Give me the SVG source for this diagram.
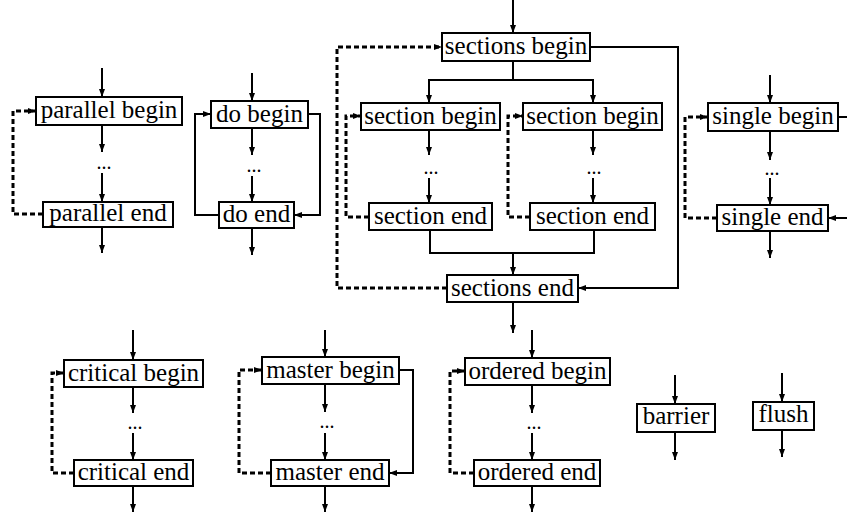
<svg xmlns="http://www.w3.org/2000/svg" width="847" height="521" viewBox="0 0 847 521">
<style>
.box{fill:#fff;stroke:#000;stroke-width:2}
.t{font-family:"Liberation Serif","Times New Roman",serif;font-size:25px;text-anchor:middle;fill:#000}
.d{font-family:"Liberation Serif","Times New Roman",serif;font-size:20px;text-anchor:middle;fill:#000}
.ln{fill:none;stroke:#000;stroke-width:2}
.ar{marker-end:url(#ah)}
.dl{fill:none;stroke:#000;stroke-width:3;stroke-dasharray:5 3}
</style>
<defs>
<marker id="ah" viewBox="0 0 8 6" refX="8" refY="3" markerWidth="8" markerHeight="6" markerUnits="userSpaceOnUse" orient="auto">
<path d="M0,0 L8,3 L0,6 z" fill="#000"/>
</marker>
</defs>
<g id="connectors">
<path class="ln ar" d="M102,68 V97"/>
<path class="ln ar" d="M102,125 V152"/>
<path class="ln ar" d="M102,173 V202"/>
<path class="ln ar" d="M102,227 V253"/>
<path class="dl ar" d="M43,214 H13 V111 H36"/>
<path class="ln ar" d="M252,73 V101"/>
<path class="ln ar" d="M252,128 V155"/>
<path class="ln ar" d="M252,176 V202"/>
<path class="ln ar" d="M252,228 V255"/>
<path class="ln ar" d="M219,215 H195 V114 H211"/>
<path class="ln ar" d="M308,114 H320 V215 H294"/>
<path class="ln ar" d="M513,0 V33"/>
<path class="ln" d="M513,61 V80"/>
<path class="ln ar" d="M513,80 H429 V103"/>
<path class="ln ar" d="M513,80 H593 V103"/>
<path class="ln ar" d="M429,130 V155"/>
<path class="ln ar" d="M429,178 V203"/>
<path class="ln ar" d="M593,130 V155"/>
<path class="ln ar" d="M593,178 V203"/>
<path class="ln" d="M430,230 V253 H594 V230"/>
<path class="ln ar" d="M513,253 V275"/>
<path class="ln ar" d="M513,302 V333"/>
<path class="ln ar" d="M590,47 H678 V288 H578"/>
<path class="dl ar" d="M447,288 H337 V47 H442"/>
<path class="dl ar" d="M369,217 H346 V116 H361"/>
<path class="dl ar" d="M530,217 H508 V116 H523"/>
<path class="ln ar" d="M770,75 V103"/>
<path class="ln" d="M838,117 H847"/>
<path class="ln ar" d="M770,131 V160"/>
<path class="ln ar" d="M770,178 V205"/>
<path class="ln ar" d="M847,218 H828"/>
<path class="ln ar" d="M770,231 V258"/>
<path class="dl ar" d="M717,218 H685 V117 H708"/>
<path class="ln ar" d="M133,330 V360"/>
<path class="ln ar" d="M133,387 V413"/>
<path class="ln ar" d="M133,433 V460"/>
<path class="ln ar" d="M133,486 V512"/>
<path class="dl ar" d="M74,473 H52 V373 H64"/>
<path class="ln ar" d="M325,330 V357"/>
<path class="ln ar" d="M399,370 H413 V473 H389"/>
<path class="ln ar" d="M325,384 V412"/>
<path class="ln ar" d="M325,433 V460"/>
<path class="ln ar" d="M325,486 V512"/>
<path class="dl ar" d="M271,473 H239 V370 H262"/>
<path class="ln ar" d="M532,330 V358"/>
<path class="ln ar" d="M532,385 V413"/>
<path class="ln ar" d="M532,433 V460"/>
<path class="ln ar" d="M532,486 V512"/>
<path class="dl ar" d="M474,473 H450 V371 H465"/>
<path class="ln ar" d="M675,375 V404"/>
<path class="ln ar" d="M675,432 V460"/>
<path class="ln ar" d="M782,373 V402"/>
<path class="ln ar" d="M782,430 V457"/>
</g>
<g id="dots">
<text class="d" x="104" y="169">...</text>
<text class="d" x="254" y="172">...</text>
<text class="d" x="431" y="174">...</text>
<text class="d" x="594" y="174">...</text>
<text class="d" x="772" y="175">...</text>
<text class="d" x="135" y="429">...</text>
<text class="d" x="327" y="428">...</text>
<text class="d" x="534" y="429">...</text>
</g>
<g id="parallel_begin"><rect class="box" x="36" y="97" width="146" height="28"/><text class="t" x="109" y="118">parallel begin</text></g>
<g id="parallel_end"><rect class="box" x="43" y="202" width="130" height="25"/><text class="t" x="108" y="221">parallel end</text></g>
<g id="do_begin"><rect class="box" x="211" y="101" width="97" height="27"/><text class="t" x="259.5" y="122">do begin</text></g>
<g id="do_end"><rect class="box" x="219" y="202" width="75" height="26"/><text class="t" x="256.5" y="222">do end</text></g>
<g id="sections_begin"><rect class="box" x="442" y="33" width="148" height="28"/><text class="t" x="516" y="54">sections begin</text></g>
<g id="section_begin_1"><rect class="box" x="361" y="103" width="139" height="27"/><text class="t" x="430.5" y="124">section begin</text></g>
<g id="section_begin_2"><rect class="box" x="523" y="103" width="139" height="27"/><text class="t" x="592.5" y="124">section begin</text></g>
<g id="section_end_1"><rect class="box" x="369" y="203" width="123" height="27"/><text class="t" x="430.5" y="224">section end</text></g>
<g id="section_end_2"><rect class="box" x="530" y="203" width="125" height="27"/><text class="t" x="592.5" y="224">section end</text></g>
<g id="sections_end"><rect class="box" x="447" y="275" width="131" height="27"/><text class="t" x="512.5" y="296">sections end</text></g>
<g id="single_begin"><rect class="box" x="708" y="103" width="130" height="28"/><text class="t" x="773" y="124">single begin</text></g>
<g id="single_end"><rect class="box" x="717" y="205" width="111" height="26"/><text class="t" x="772.5" y="225">single end</text></g>
<g id="critical_begin"><rect class="box" x="64" y="360" width="139" height="27"/><text class="t" x="133.5" y="381">critical begin</text></g>
<g id="critical_end"><rect class="box" x="74" y="460" width="119" height="26"/><text class="t" x="133.5" y="480">critical end</text></g>
<g id="master_begin"><rect class="box" x="262" y="357" width="137" height="27"/><text class="t" x="330.5" y="378">master begin</text></g>
<g id="master_end"><rect class="box" x="271" y="460" width="118" height="26"/><text class="t" x="330" y="480">master end</text></g>
<g id="ordered_begin"><rect class="box" x="465" y="358" width="145" height="27"/><text class="t" x="537.5" y="379">ordered begin</text></g>
<g id="ordered_end"><rect class="box" x="474" y="460" width="126" height="26"/><text class="t" x="537" y="480">ordered end</text></g>
<g id="barrier"><rect class="box" x="637" y="404" width="78" height="28"/><text class="t" x="676" y="424">barrier</text></g>
<g id="flush"><rect class="box" x="753" y="402" width="61" height="28"/><text class="t" x="783.5" y="422">flush</text></g>
</svg>
